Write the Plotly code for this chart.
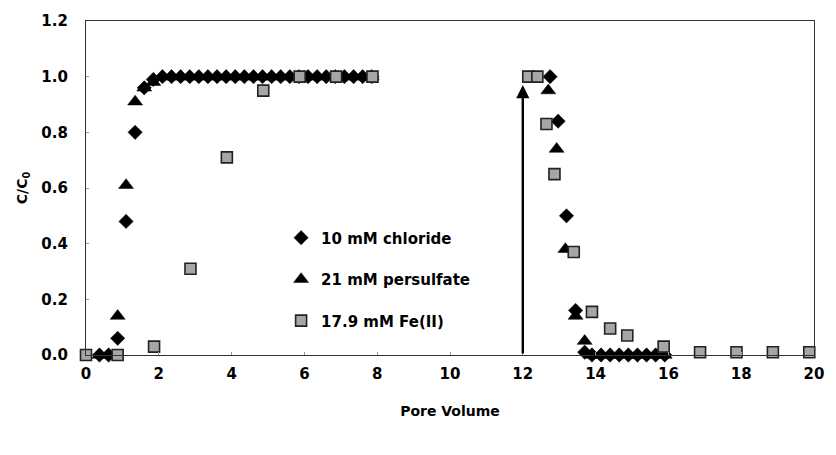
import plotly.graph_objects as go

# Breakthrough (loading) and elution curves, C/C0 versus pore volume
chloride_x = [0.37, 0.62, 0.87, 1.1, 1.35, 1.6, 1.85,
              2.1, 2.35, 2.6, 2.85, 3.1, 3.35, 3.6, 3.85, 4.1, 4.35, 4.6, 4.85,
              5.1, 5.35, 5.6, 5.85, 6.1, 6.35, 6.6, 6.85, 7.1, 7.35, 7.6, 7.85,
              12.75, 12.97, 13.2, 13.45, 13.7, 13.9, 14.15, 14.4, 14.65, 14.9,
              15.15, 15.4, 15.65, 15.9]
chloride_y = [0.0, 0.0, 0.06, 0.48, 0.80, 0.96, 0.99,
              1.0, 1.0, 1.0, 1.0, 1.0, 1.0, 1.0, 1.0, 1.0, 1.0, 1.0, 1.0,
              1.0, 1.0, 1.0, 1.0, 1.0, 1.0, 1.0, 1.0, 1.0, 1.0, 1.0, 1.0,
              1.0, 0.84, 0.50, 0.16, 0.01, 0.0, 0.0, 0.0, 0.0, 0.0,
              0.0, 0.0, 0.0, 0.0]

persulfate_x = [0.37, 0.62, 0.87, 1.1, 1.35, 1.6, 1.85,
                2.1, 2.35, 2.6, 2.85, 3.1, 3.35, 3.6, 3.85, 4.1, 4.35, 4.6, 4.85,
                5.1, 5.35, 5.6, 5.85, 6.1, 6.35, 6.6, 6.85, 7.1, 7.35, 7.6, 7.85,
                12.7, 12.93, 13.17, 13.45, 13.7, 13.9, 14.15, 14.4, 14.65, 14.9,
                15.15, 15.4, 15.65, 15.9]
persulfate_y = [0.0, 0.0, 0.14, 0.61, 0.91, 0.96, 0.98,
                1.0, 1.0, 1.0, 1.0, 1.0, 1.0, 1.0, 1.0, 1.0, 1.0, 1.0, 1.0,
                1.0, 1.0, 1.0, 1.0, 1.0, 1.0, 1.0, 1.0, 1.0, 1.0, 1.0, 1.0,
                0.95, 0.74, 0.38, 0.14, 0.05, 0.0, 0.0, 0.0, 0.0, 0.0,
                0.0, 0.0, 0.0, 0.0]

iron_x = [0.0, 0.87, 1.87, 2.87, 3.87, 4.87, 5.87, 6.87, 7.87,
          12.15, 12.4, 12.65, 12.87, 13.4, 13.9, 14.4, 14.87, 15.87,
          16.87, 17.87, 18.87, 19.87]
iron_y = [0.0, 0.0, 0.03, 0.31, 0.71, 0.95, 1.0, 1.0, 1.0,
          1.0, 1.0, 0.83, 0.65, 0.37, 0.155, 0.095, 0.07, 0.03,
          0.01, 0.01, 0.01, 0.01]

# Switch from feed solution to flushing
switch_pv = 12
arrow_top = 0.97

x_ticks = [0, 2, 4, 6, 8, 10, 12, 14, 16, 18, 20]
y_ticks = [0.0, 0.2, 0.4, 0.6, 0.8, 1.0, 1.2]

FONT = "DejaVu Sans"

fig = go.Figure()
fig.add_trace(go.Scatter(
    x=chloride_x, y=chloride_y, mode="markers", name="10 mM chloride",
    legendgroup="a", cliponaxis=False,
    marker=dict(symbol="diamond", size=11, color="black",
                line=dict(color="black", width=0.5)),
))
fig.add_trace(go.Scatter(
    x=persulfate_x, y=persulfate_y, mode="markers", name="21 mM persulfate",
    legendgroup="b", cliponaxis=False,
    marker=dict(symbol="triangle-up", size=13, color="black",
                line=dict(color="black", width=0.5)),
))
fig.add_trace(go.Scatter(
    x=iron_x, y=iron_y, mode="markers", name="17.9 mM Fe(II)",
    legendgroup="c", cliponaxis=False,
    marker=dict(symbol="square", size=11, color="#a6a6a6",
                line=dict(color="#222222", width=1.6)),
))

fig.add_annotation(
    x=switch_pv, y=arrow_top, ax=switch_pv, ay=0,
    xref="x", yref="y", axref="x", ayref="y",
    showarrow=True, arrowhead=2, arrowsize=1.1, arrowwidth=2.4,
    arrowcolor="black", text="",
)

fig.update_layout(
    width=836, height=455,
    margin=dict(l=86, r=14, t=18, b=100),
    paper_bgcolor="white", plot_bgcolor="white",
    font=dict(family=FONT, color="black", size=14),
    showlegend=True,
    legend=dict(
        x=0.268, y=0.40, xanchor="left", yanchor="top",
        bgcolor="rgba(0,0,0,0)", borderwidth=0,
        font=dict(family=FONT, size=15, weight="bold"),
        tracegroupgap=19, itemwidth=30,
    ),
)
fig.update_xaxes(
    range=[0, 20], tickvals=x_ticks, ticktext=[str(v) for v in x_ticks],
    showgrid=False, zeroline=False,
    showline=True, linecolor="#333333", linewidth=1.3, mirror=True,
    ticks="inside", ticklen=3, tickcolor="#999999",
    tickfont=dict(family=FONT, size=15, weight="bold"),
    ticklabelstandoff=5,
    title=dict(text="<b>Pore Volume</b>", font=dict(family=FONT, size=14), standoff=24),
)
fig.update_yaxes(
    range=[0, 1.2], tickvals=y_ticks, ticktext=[f"{v:.1f}" for v in y_ticks],
    showgrid=False, zeroline=False,
    showline=True, linecolor="#333333", linewidth=1.3, mirror=True,
    ticks="inside", ticklen=3, tickcolor="#999999",
    tickfont=dict(family=FONT, size=15, weight="bold"),
    ticklabelstandoff=14,
    title=dict(text="<b>C/C<sub>0</sub></b>", font=dict(family=FONT, size=14), standoff=10),
)

fig.write_html("out.html")
